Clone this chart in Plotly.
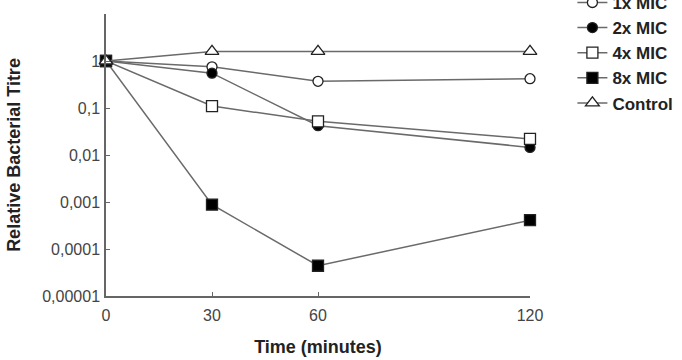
import plotly.graph_objects as go

time_min = [0, 30, 60, 120]
mic1 = [1, 0.75, 0.37, 0.42]
mic2 = [1, 0.55, 0.042, 0.0145]
mic4 = [1, 0.11, 0.052, 0.022]
mic8 = [1, 0.00088, 0.000044, 0.00041]
control = [1, 1.6, 1.6, 1.6]

y_tickvals = [0.00001, 0.0001, 0.001, 0.01, 0.1, 1, 10]
y_ticktext = ["0,00001", "0,0001", "0,001", "0,01", "0,1", "1", ""]
x_tickvals = [0, 30, 60, 120]

LINE = "#6a6a6a"
EDGE = "#222222"

series = [
    ("1x MIC", mic1, "circle", "white", 10),
    ("2x MIC", mic2, "circle", "black", 10),
    ("4x MIC", mic4, "square", "white", 11),
    ("8x MIC", mic8, "square", "black", 11),
    ("Control", control, "triangle-up", "white", 12),
]

fig = go.Figure()
for name, vals, sym, fill, size in series:
    fig.add_trace(go.Scatter(
        x=time_min, y=vals, name=name, mode="lines+markers",
        line=dict(color=LINE, width=1.5),
        marker=dict(symbol=sym, size=size, color=fill,
                    line=dict(color=EDGE, width=1.3)),
        cliponaxis=False,
    ))

fig.update_layout(
    width=682, height=360,
    margin=dict(l=106, r=152, t=14, b=64, autoexpand=False),
    paper_bgcolor="white", plot_bgcolor="white",
    font=dict(family="Liberation Sans, Arial, sans-serif", color="#333333"),
    showlegend=True,
    legend=dict(
        x=1.100, y=1.103, xanchor="left", yanchor="top",
        font=dict(size=17, color="#222222", family="Liberation Sans, Arial, sans-serif", weight="bold"),
        bgcolor="rgba(0,0,0,0)", tracegroupgap=0,
    ),
)

fig.update_xaxes(
    range=[0, 120], tickvals=x_tickvals, ticks="inside", ticklen=4,
    tickcolor="#666666", showline=True, linecolor="#666666", linewidth=1.5,
    showgrid=False, zeroline=False,
    tickfont=dict(size=16, color="#444444"), ticklabelstandoff=4,
    title=dict(text="Time (minutes)", font=dict(size=18, color="#222222", weight="bold"), standoff=17),
)
fig.update_yaxes(
    type="log", range=[-5, 1], tickvals=y_tickvals, ticktext=y_ticktext,
    ticks="inside", ticklen=4, tickcolor="#666666",
    showline=True, linecolor="#666666", linewidth=1.5,
    showgrid=False, zeroline=False,
    tickfont=dict(size=16, color="#444444"), ticklabelstandoff=1,
    title=dict(text="Relative Bacterial Titre", font=dict(size=18, color="#222222", weight="bold"), standoff=17),
)

fig.write_html("out.html")
